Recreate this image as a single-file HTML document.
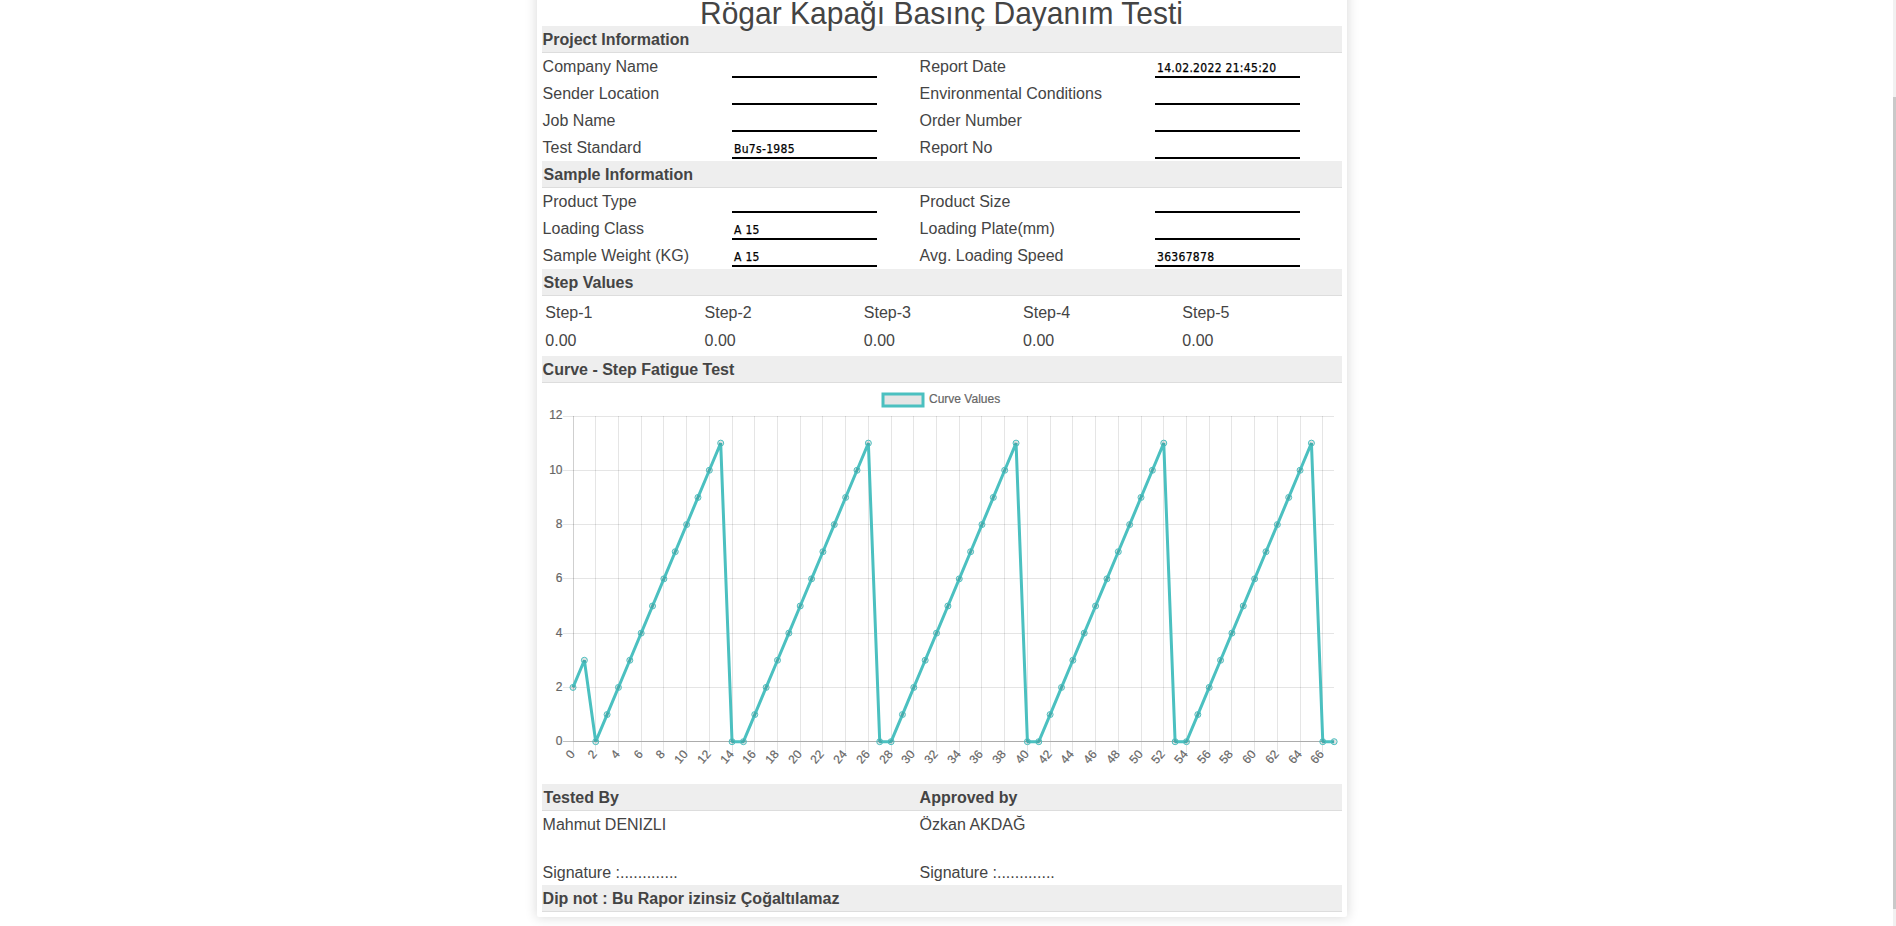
<!DOCTYPE html>
<html lang="tr"><head><meta charset="utf-8"><title>Rögar Kapağı Basınç Dayanım Testi</title>
<style>
html,body{margin:0;padding:0;background:#fff;}
body{width:1896px;height:926px;overflow:hidden;position:relative;font-family:"Liberation Sans",Arial,sans-serif;color:#444;font-size:16px;}
.card{position:absolute;left:537px;top:-40px;width:810px;height:957px;background:#fff;box-shadow:0 0 12px 1px rgba(0,0,0,.14);border-radius:2px;}
.in{position:absolute;left:5px;top:40px;width:800px;height:917px;}
.title{position:absolute;left:-0.5px;top:-3px;width:800px;margin:0;text-align:center;font-weight:normal;font-size:30px;line-height:34px;color:#444;white-space:nowrap;z-index:2;transform:scaleY(1.05);transform-origin:50% 27px;}
.bar{position:absolute;left:0;width:800px;height:26px;background:#eee;border-bottom:1px solid #ddd;font-weight:bold;line-height:27px;}
.bar span{position:absolute;top:0;white-space:nowrap;}
.row{position:absolute;left:0;width:800px;height:27px;line-height:27px;}
.row span{position:absolute;top:0;white-space:nowrap;}
.inp{width:141px;height:23px;border-bottom:2px solid #000;padding:0 2px;font-family:"DejaVu Sans Condensed","DejaVu Sans",sans-serif;font-size:12px;color:#000;line-height:31px;letter-spacing:0.3px;-webkit-text-stroke:0.25px #000;overflow:hidden;}
.steps{position:absolute;left:0;top:296px;width:800px;height:60px;}
.st{position:absolute;line-height:18px;white-space:nowrap;}
.chart{position:absolute;left:0;top:384px;}
.sb{position:absolute;right:0;top:0;width:3px;height:926px;background:#f1f1f1;}
.sb i{position:absolute;left:0;top:97px;width:3px;height:812px;background:#c9c9c9;}
</style></head>
<body>
<div class="card"><div class="in">
<h1 class="title">Rögar Kapağı Basınç Dayanım Testi</h1>
<div class="bar" style="top:26px"><span style="left:0.6px">Project Information</span></div>
<div class="row" style="top:53px"><span class="lbl" style="left:0.6px">Company Name</span><span class="inp" style="left:190px"></span><span class="lbl" style="left:377.6px">Report Date</span><span class="inp" style="left:613px">14.02.2022 21:45:20</span></div>
<div class="row" style="top:80px"><span class="lbl" style="left:0.6px">Sender Location</span><span class="inp" style="left:190px"></span><span class="lbl" style="left:377.6px">Environmental Conditions</span><span class="inp" style="left:613px"></span></div>
<div class="row" style="top:107px"><span class="lbl" style="left:0.6px">Job Name</span><span class="inp" style="left:190px"></span><span class="lbl" style="left:377.6px">Order Number</span><span class="inp" style="left:613px"></span></div>
<div class="row" style="top:134px"><span class="lbl" style="left:0.6px">Test Standard</span><span class="inp" style="left:190px">Bu7s-1985</span><span class="lbl" style="left:377.6px">Report No</span><span class="inp" style="left:613px"></span></div>
<div class="bar" style="top:161px"><span style="left:1.6px">Sample Information</span></div>
<div class="row" style="top:188px"><span class="lbl" style="left:0.6px">Product Type</span><span class="inp" style="left:190px"></span><span class="lbl" style="left:377.6px">Product Size</span><span class="inp" style="left:613px"></span></div>
<div class="row" style="top:215px"><span class="lbl" style="left:0.6px">Loading Class</span><span class="inp" style="left:190px">A 15</span><span class="lbl" style="left:377.6px">Loading Plate(mm)</span><span class="inp" style="left:613px"></span></div>
<div class="row" style="top:242px"><span class="lbl" style="left:0.6px">Sample Weight (KG)</span><span class="inp" style="left:190px">A 15</span><span class="lbl" style="left:377.6px">Avg. Loading Speed</span><span class="inp" style="left:613px">36367878</span></div>
<div class="bar" style="top:269px"><span style="left:1.6px">Step Values</span></div>
<div class="steps"><span class="st" style="left:3.3px;top:8px">Step-1</span><span class="st" style="left:3.3px;top:36px">0.00</span><span class="st" style="left:162.55px;top:8px">Step-2</span><span class="st" style="left:162.55px;top:36px">0.00</span><span class="st" style="left:321.8px;top:8px">Step-3</span><span class="st" style="left:321.8px;top:36px">0.00</span><span class="st" style="left:481.05px;top:8px">Step-4</span><span class="st" style="left:481.05px;top:36px">0.00</span><span class="st" style="left:640.3px;top:8px">Step-5</span><span class="st" style="left:640.3px;top:36px">0.00</span></div>
<div class="bar" style="top:356px"><span style="left:0.6px">Curve - Step Fatigue Test</span></div>
<svg class="chart" width="800" height="400" viewBox="0 0 800 400" font-family="Liberation Sans, Arial, sans-serif" font-size="12" fill="#666">
<g stroke-width="1" shape-rendering="crispEdges"><line x1="31.5" y1="32" x2="31.5" y2="357" stroke="rgba(0,0,0,0.19)"/><line x1="31.5" y1="358" x2="31.5" y2="368" stroke="rgba(0,0,0,0.1)"/><line x1="53.5" y1="32" x2="53.5" y2="357" stroke="rgba(0,0,0,0.1)"/><line x1="53.5" y1="358" x2="53.5" y2="368" stroke="rgba(0,0,0,0.1)"/><line x1="76.5" y1="32" x2="76.5" y2="357" stroke="rgba(0,0,0,0.1)"/><line x1="76.5" y1="358" x2="76.5" y2="368" stroke="rgba(0,0,0,0.1)"/><line x1="99.5" y1="32" x2="99.5" y2="357" stroke="rgba(0,0,0,0.1)"/><line x1="99.5" y1="358" x2="99.5" y2="368" stroke="rgba(0,0,0,0.1)"/><line x1="121.5" y1="32" x2="121.5" y2="357" stroke="rgba(0,0,0,0.1)"/><line x1="121.5" y1="358" x2="121.5" y2="368" stroke="rgba(0,0,0,0.1)"/><line x1="144.5" y1="32" x2="144.5" y2="357" stroke="rgba(0,0,0,0.1)"/><line x1="144.5" y1="358" x2="144.5" y2="368" stroke="rgba(0,0,0,0.1)"/><line x1="167.5" y1="32" x2="167.5" y2="357" stroke="rgba(0,0,0,0.1)"/><line x1="167.5" y1="358" x2="167.5" y2="368" stroke="rgba(0,0,0,0.1)"/><line x1="190.5" y1="32" x2="190.5" y2="357" stroke="rgba(0,0,0,0.1)"/><line x1="190.5" y1="358" x2="190.5" y2="368" stroke="rgba(0,0,0,0.1)"/><line x1="212.5" y1="32" x2="212.5" y2="357" stroke="rgba(0,0,0,0.1)"/><line x1="212.5" y1="358" x2="212.5" y2="368" stroke="rgba(0,0,0,0.1)"/><line x1="235.5" y1="32" x2="235.5" y2="357" stroke="rgba(0,0,0,0.1)"/><line x1="235.5" y1="358" x2="235.5" y2="368" stroke="rgba(0,0,0,0.1)"/><line x1="258.5" y1="32" x2="258.5" y2="357" stroke="rgba(0,0,0,0.1)"/><line x1="258.5" y1="358" x2="258.5" y2="368" stroke="rgba(0,0,0,0.1)"/><line x1="280.5" y1="32" x2="280.5" y2="357" stroke="rgba(0,0,0,0.1)"/><line x1="280.5" y1="358" x2="280.5" y2="368" stroke="rgba(0,0,0,0.1)"/><line x1="303.5" y1="32" x2="303.5" y2="357" stroke="rgba(0,0,0,0.1)"/><line x1="303.5" y1="358" x2="303.5" y2="368" stroke="rgba(0,0,0,0.1)"/><line x1="326.5" y1="32" x2="326.5" y2="357" stroke="rgba(0,0,0,0.1)"/><line x1="326.5" y1="358" x2="326.5" y2="368" stroke="rgba(0,0,0,0.1)"/><line x1="349.5" y1="32" x2="349.5" y2="357" stroke="rgba(0,0,0,0.1)"/><line x1="349.5" y1="358" x2="349.5" y2="368" stroke="rgba(0,0,0,0.1)"/><line x1="371.5" y1="32" x2="371.5" y2="357" stroke="rgba(0,0,0,0.1)"/><line x1="371.5" y1="358" x2="371.5" y2="368" stroke="rgba(0,0,0,0.1)"/><line x1="394.5" y1="32" x2="394.5" y2="357" stroke="rgba(0,0,0,0.1)"/><line x1="394.5" y1="358" x2="394.5" y2="368" stroke="rgba(0,0,0,0.1)"/><line x1="417.5" y1="32" x2="417.5" y2="357" stroke="rgba(0,0,0,0.1)"/><line x1="417.5" y1="358" x2="417.5" y2="368" stroke="rgba(0,0,0,0.1)"/><line x1="439.5" y1="32" x2="439.5" y2="357" stroke="rgba(0,0,0,0.1)"/><line x1="439.5" y1="358" x2="439.5" y2="368" stroke="rgba(0,0,0,0.1)"/><line x1="462.5" y1="32" x2="462.5" y2="357" stroke="rgba(0,0,0,0.1)"/><line x1="462.5" y1="358" x2="462.5" y2="368" stroke="rgba(0,0,0,0.1)"/><line x1="485.5" y1="32" x2="485.5" y2="357" stroke="rgba(0,0,0,0.1)"/><line x1="485.5" y1="358" x2="485.5" y2="368" stroke="rgba(0,0,0,0.1)"/><line x1="508.5" y1="32" x2="508.5" y2="357" stroke="rgba(0,0,0,0.1)"/><line x1="508.5" y1="358" x2="508.5" y2="368" stroke="rgba(0,0,0,0.1)"/><line x1="530.5" y1="32" x2="530.5" y2="357" stroke="rgba(0,0,0,0.1)"/><line x1="530.5" y1="358" x2="530.5" y2="368" stroke="rgba(0,0,0,0.1)"/><line x1="553.5" y1="32" x2="553.5" y2="357" stroke="rgba(0,0,0,0.1)"/><line x1="553.5" y1="358" x2="553.5" y2="368" stroke="rgba(0,0,0,0.1)"/><line x1="576.5" y1="32" x2="576.5" y2="357" stroke="rgba(0,0,0,0.1)"/><line x1="576.5" y1="358" x2="576.5" y2="368" stroke="rgba(0,0,0,0.1)"/><line x1="599.5" y1="32" x2="599.5" y2="357" stroke="rgba(0,0,0,0.1)"/><line x1="599.5" y1="358" x2="599.5" y2="368" stroke="rgba(0,0,0,0.1)"/><line x1="621.5" y1="32" x2="621.5" y2="357" stroke="rgba(0,0,0,0.1)"/><line x1="621.5" y1="358" x2="621.5" y2="368" stroke="rgba(0,0,0,0.1)"/><line x1="644.5" y1="32" x2="644.5" y2="357" stroke="rgba(0,0,0,0.1)"/><line x1="644.5" y1="358" x2="644.5" y2="368" stroke="rgba(0,0,0,0.1)"/><line x1="667.5" y1="32" x2="667.5" y2="357" stroke="rgba(0,0,0,0.1)"/><line x1="667.5" y1="358" x2="667.5" y2="368" stroke="rgba(0,0,0,0.1)"/><line x1="689.5" y1="32" x2="689.5" y2="357" stroke="rgba(0,0,0,0.1)"/><line x1="689.5" y1="358" x2="689.5" y2="368" stroke="rgba(0,0,0,0.1)"/><line x1="712.5" y1="32" x2="712.5" y2="357" stroke="rgba(0,0,0,0.1)"/><line x1="712.5" y1="358" x2="712.5" y2="368" stroke="rgba(0,0,0,0.1)"/><line x1="735.5" y1="32" x2="735.5" y2="357" stroke="rgba(0,0,0,0.1)"/><line x1="735.5" y1="358" x2="735.5" y2="368" stroke="rgba(0,0,0,0.1)"/><line x1="758.5" y1="32" x2="758.5" y2="357" stroke="rgba(0,0,0,0.1)"/><line x1="758.5" y1="358" x2="758.5" y2="368" stroke="rgba(0,0,0,0.1)"/><line x1="780.5" y1="32" x2="780.5" y2="357" stroke="rgba(0,0,0,0.1)"/><line x1="780.5" y1="358" x2="780.5" y2="368" stroke="rgba(0,0,0,0.1)"/><line x1="21" y1="357.5" x2="31" y2="357.5" stroke="rgba(0,0,0,0.25)"/><line x1="31" y1="357.5" x2="792.2" y2="357.5" stroke="rgba(0,0,0,0.325)"/><line x1="21" y1="303.5" x2="792.2" y2="303.5" stroke="rgba(0,0,0,0.1)"/><line x1="21" y1="249.5" x2="792.2" y2="249.5" stroke="rgba(0,0,0,0.1)"/><line x1="21" y1="194.5" x2="792.2" y2="194.5" stroke="rgba(0,0,0,0.1)"/><line x1="21" y1="140.5" x2="792.2" y2="140.5" stroke="rgba(0,0,0,0.1)"/><line x1="21" y1="86.5" x2="792.2" y2="86.5" stroke="rgba(0,0,0,0.1)"/><line x1="21" y1="32.5" x2="792.2" y2="32.5" stroke="rgba(0,0,0,0.1)"/></g>
<g stroke="#666" stroke-width="0.2"><text x="20.5" y="361.0" text-anchor="end">0</text><text x="20.5" y="307.0" text-anchor="end">2</text><text x="20.5" y="253.0" text-anchor="end">4</text><text x="20.5" y="198.0" text-anchor="end">6</text><text x="20.5" y="144.0" text-anchor="end">8</text><text x="20.5" y="90.0" text-anchor="end">10</text><text x="20.5" y="35.2" text-anchor="end">12</text><text transform="translate(31.5 369.5) rotate(-50)" x="0.6" y="2" text-anchor="end">0</text><text transform="translate(53.5 369.5) rotate(-50)" x="0.6" y="2" text-anchor="end">2</text><text transform="translate(76.5 369.5) rotate(-50)" x="0.6" y="2" text-anchor="end">4</text><text transform="translate(99.5 369.5) rotate(-50)" x="0.6" y="2" text-anchor="end">6</text><text transform="translate(121.5 369.5) rotate(-50)" x="0.6" y="2" text-anchor="end">8</text><text transform="translate(144.5 369.5) rotate(-50)" x="0.6" y="2" text-anchor="end">10</text><text transform="translate(167.5 369.5) rotate(-50)" x="0.6" y="2" text-anchor="end">12</text><text transform="translate(190.5 369.5) rotate(-50)" x="0.6" y="2" text-anchor="end">14</text><text transform="translate(212.5 369.5) rotate(-50)" x="0.6" y="2" text-anchor="end">16</text><text transform="translate(235.5 369.5) rotate(-50)" x="0.6" y="2" text-anchor="end">18</text><text transform="translate(258.5 369.5) rotate(-50)" x="0.6" y="2" text-anchor="end">20</text><text transform="translate(280.5 369.5) rotate(-50)" x="0.6" y="2" text-anchor="end">22</text><text transform="translate(303.5 369.5) rotate(-50)" x="0.6" y="2" text-anchor="end">24</text><text transform="translate(326.5 369.5) rotate(-50)" x="0.6" y="2" text-anchor="end">26</text><text transform="translate(349.5 369.5) rotate(-50)" x="0.6" y="2" text-anchor="end">28</text><text transform="translate(371.5 369.5) rotate(-50)" x="0.6" y="2" text-anchor="end">30</text><text transform="translate(394.5 369.5) rotate(-50)" x="0.6" y="2" text-anchor="end">32</text><text transform="translate(417.5 369.5) rotate(-50)" x="0.6" y="2" text-anchor="end">34</text><text transform="translate(439.5 369.5) rotate(-50)" x="0.6" y="2" text-anchor="end">36</text><text transform="translate(462.5 369.5) rotate(-50)" x="0.6" y="2" text-anchor="end">38</text><text transform="translate(485.5 369.5) rotate(-50)" x="0.6" y="2" text-anchor="end">40</text><text transform="translate(508.5 369.5) rotate(-50)" x="0.6" y="2" text-anchor="end">42</text><text transform="translate(530.5 369.5) rotate(-50)" x="0.6" y="2" text-anchor="end">44</text><text transform="translate(553.5 369.5) rotate(-50)" x="0.6" y="2" text-anchor="end">46</text><text transform="translate(576.5 369.5) rotate(-50)" x="0.6" y="2" text-anchor="end">48</text><text transform="translate(599.5 369.5) rotate(-50)" x="0.6" y="2" text-anchor="end">50</text><text transform="translate(621.5 369.5) rotate(-50)" x="0.6" y="2" text-anchor="end">52</text><text transform="translate(644.5 369.5) rotate(-50)" x="0.6" y="2" text-anchor="end">54</text><text transform="translate(667.5 369.5) rotate(-50)" x="0.6" y="2" text-anchor="end">56</text><text transform="translate(689.5 369.5) rotate(-50)" x="0.6" y="2" text-anchor="end">58</text><text transform="translate(712.5 369.5) rotate(-50)" x="0.6" y="2" text-anchor="end">60</text><text transform="translate(735.5 369.5) rotate(-50)" x="0.6" y="2" text-anchor="end">62</text><text transform="translate(758.5 369.5) rotate(-50)" x="0.6" y="2" text-anchor="end">64</text><text transform="translate(780.5 369.5) rotate(-50)" x="0.6" y="2" text-anchor="end">66</text><text x="387" y="19">Curve Values</text></g>
<rect x="341" y="10" width="40" height="12" fill="rgba(0,0,0,0.1)" stroke="#4bc0c0" stroke-width="3"/>
<polyline points="31.00,303.42 42.36,276.28 53.72,357.70 65.08,330.56 76.44,303.42 87.80,276.28 99.16,249.13 110.52,221.99 121.88,194.85 133.24,167.71 144.61,140.57 155.97,113.43 167.33,86.28 178.69,59.14 190.05,357.70 201.41,357.70 212.77,330.56 224.13,303.42 235.49,276.28 246.85,249.13 258.21,221.99 269.57,194.85 280.93,167.71 292.29,140.57 303.65,113.43 315.01,86.28 326.37,59.14 337.73,357.70 349.09,357.70 360.45,330.56 371.81,303.42 383.18,276.28 394.54,249.13 405.90,221.99 417.26,194.85 428.62,167.71 439.98,140.57 451.34,113.43 462.70,86.28 474.06,59.14 485.42,357.70 496.78,357.70 508.14,330.56 519.50,303.42 530.86,276.28 542.22,249.13 553.58,221.99 564.94,194.85 576.30,167.71 587.66,140.57 599.02,113.43 610.39,86.28 621.75,59.14 633.11,357.70 644.47,357.70 655.83,330.56 667.19,303.42 678.55,276.28 689.91,249.13 701.27,221.99 712.63,194.85 723.99,167.71 735.35,140.57 746.71,113.43 758.07,86.28 769.43,59.14 780.79,357.70 792.15,357.70" fill="none" stroke="#4bc0c0" stroke-width="3" stroke-linejoin="bevel" stroke-linecap="butt"/>
<g fill="rgba(0,0,0,0.1)" stroke="#4bc0c0" stroke-width="1"><circle cx="31.00" cy="303.42" r="3"/><circle cx="42.36" cy="276.28" r="3"/><circle cx="53.72" cy="357.70" r="3"/><circle cx="65.08" cy="330.56" r="3"/><circle cx="76.44" cy="303.42" r="3"/><circle cx="87.80" cy="276.28" r="3"/><circle cx="99.16" cy="249.13" r="3"/><circle cx="110.52" cy="221.99" r="3"/><circle cx="121.88" cy="194.85" r="3"/><circle cx="133.24" cy="167.71" r="3"/><circle cx="144.61" cy="140.57" r="3"/><circle cx="155.97" cy="113.43" r="3"/><circle cx="167.33" cy="86.28" r="3"/><circle cx="178.69" cy="59.14" r="3"/><circle cx="190.05" cy="357.70" r="3"/><circle cx="201.41" cy="357.70" r="3"/><circle cx="212.77" cy="330.56" r="3"/><circle cx="224.13" cy="303.42" r="3"/><circle cx="235.49" cy="276.28" r="3"/><circle cx="246.85" cy="249.13" r="3"/><circle cx="258.21" cy="221.99" r="3"/><circle cx="269.57" cy="194.85" r="3"/><circle cx="280.93" cy="167.71" r="3"/><circle cx="292.29" cy="140.57" r="3"/><circle cx="303.65" cy="113.43" r="3"/><circle cx="315.01" cy="86.28" r="3"/><circle cx="326.37" cy="59.14" r="3"/><circle cx="337.73" cy="357.70" r="3"/><circle cx="349.09" cy="357.70" r="3"/><circle cx="360.45" cy="330.56" r="3"/><circle cx="371.81" cy="303.42" r="3"/><circle cx="383.18" cy="276.28" r="3"/><circle cx="394.54" cy="249.13" r="3"/><circle cx="405.90" cy="221.99" r="3"/><circle cx="417.26" cy="194.85" r="3"/><circle cx="428.62" cy="167.71" r="3"/><circle cx="439.98" cy="140.57" r="3"/><circle cx="451.34" cy="113.43" r="3"/><circle cx="462.70" cy="86.28" r="3"/><circle cx="474.06" cy="59.14" r="3"/><circle cx="485.42" cy="357.70" r="3"/><circle cx="496.78" cy="357.70" r="3"/><circle cx="508.14" cy="330.56" r="3"/><circle cx="519.50" cy="303.42" r="3"/><circle cx="530.86" cy="276.28" r="3"/><circle cx="542.22" cy="249.13" r="3"/><circle cx="553.58" cy="221.99" r="3"/><circle cx="564.94" cy="194.85" r="3"/><circle cx="576.30" cy="167.71" r="3"/><circle cx="587.66" cy="140.57" r="3"/><circle cx="599.02" cy="113.43" r="3"/><circle cx="610.39" cy="86.28" r="3"/><circle cx="621.75" cy="59.14" r="3"/><circle cx="633.11" cy="357.70" r="3"/><circle cx="644.47" cy="357.70" r="3"/><circle cx="655.83" cy="330.56" r="3"/><circle cx="667.19" cy="303.42" r="3"/><circle cx="678.55" cy="276.28" r="3"/><circle cx="689.91" cy="249.13" r="3"/><circle cx="701.27" cy="221.99" r="3"/><circle cx="712.63" cy="194.85" r="3"/><circle cx="723.99" cy="167.71" r="3"/><circle cx="735.35" cy="140.57" r="3"/><circle cx="746.71" cy="113.43" r="3"/><circle cx="758.07" cy="86.28" r="3"/><circle cx="769.43" cy="59.14" r="3"/><circle cx="780.79" cy="357.70" r="3"/><circle cx="792.15" cy="357.70" r="3"/></g>
</svg>
<div class="bar" style="top:784px"><span style="left:1.6px">Tested By</span><span style="left:377.6px">Approved by</span></div>
<div class="row" style="top:811px"><span class="lbl" style="left:0.6px">Mahmut DENIZLI</span><span class="lbl" style="left:377.6px">Özkan AKDAĞ</span></div>
<div class="row" style="top:859px"><span class="lbl" style="left:0.6px">Signature :.............</span><span class="lbl" style="left:377.6px">Signature :.............</span></div>
<div class="bar" style="top:885px"><span style="left:0.6px">Dip not : Bu Rapor izinsiz Çoğaltılamaz</span></div>
</div></div>
<div class="sb"><i></i></div>
</body></html>
